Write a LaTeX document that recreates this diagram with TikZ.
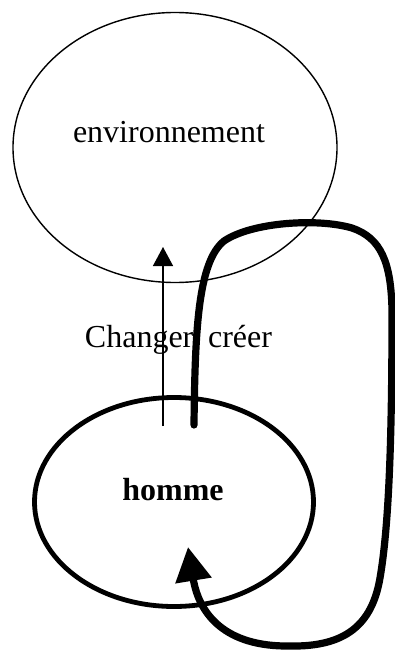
\documentclass[tikz,border=0pt]{standalone}
\usepackage{fontspec}
\setmainfont{Liberation Serif}
\usetikzlibrary{shapes.geometric,arrows.meta}
\begin{document}
\begin{tikzpicture}[x=1pt,y=-1pt,
  oval/.style={ellipse,draw,inner sep=0pt,outer sep=0pt},
  word/.style={anchor=base,inner sep=0pt,font=\fontsize{32}{38}\selectfont},
  thin/.style={line width=1.4pt},
  heavy/.style={line width=7.2pt},
]
\useasboundingbox (0,0) rectangle (395,653);

% the two spheres
\node[oval,thin,minimum width=324pt,minimum height=270pt] (env) at (175,147.5) {};
\node[oval,line width=4.8pt,minimum width=279pt,minimum height=209pt] (homme) at (174,502) {};

% labels
\node[word] (envlabel) at (169,142) {environnement};
\node[word] (hommelabel) at (173,500) {\bfseries homme};
\node[word] (action) at (178.5,347) {Changer, créer};

% action of man on the environment
\coordinate (up0) at (163,426);
\coordinate (up1) at (163,247);
\draw[thin,-{Triangle[length=19pt,width=20pt]}] (up0) -- (up1);

% feedback loop from the environment back to man
\coordinate (loop0) at (194,425);
\coordinate (looptip) at (188,547);
\draw[heavy,line cap=round,-{Triangle[length=34pt,width=35pt]}]
  (loop0) .. controls (195,330) and (198,262) .. (224,241)
          .. controls (252,222) and (318,218) .. (352,228)
          .. controls (381,238) and (391,262) .. (392,310)
          .. controls (392,420) and (390,520) .. (380,578)
          .. controls (372,625) and (345,647) .. (290,646)
          .. controls (225,647) and (199,614) .. (looptip);
\end{tikzpicture}
\end{document}
